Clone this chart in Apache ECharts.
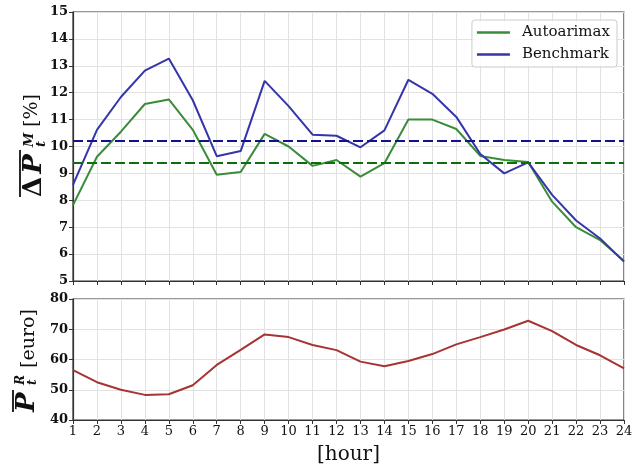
<!DOCTYPE html>
<html>
<head>
<meta charset="utf-8">
<script src="https://cdn.jsdelivr.net/npm/echarts@6/dist/echarts.min.js"></script>
<style>
  html, body { margin: 0; padding: 0; background: #fff; }
  #chart { width: 643px; height: 466px; }
</style>
</head>
<body>
<div id="chart"></div>
<script>
// Hour of day
const hours = [1, 2, 3, 4, 5, 6, 7, 8, 9, 10, 11, 12, 13, 14, 15, 16, 17, 18, 19, 20, 21, 22, 23, 24];

// Mean absolute percentage error per hour [%]
const autoarimax = [7.82, 9.62, 10.55, 11.58, 11.75, 10.62, 8.95, 9.05, 10.47, 10.0, 9.28, 9.5,
                    8.88, 9.38, 11.0, 11.0, 10.65, 9.65, 9.5, 9.42, 7.95, 7.0, 6.52, 5.74];
const benchmark  = [8.57, 10.62, 11.84, 12.82, 13.27, 11.72, 9.64, 9.83, 12.44, 11.5, 10.44, 10.4,
                    9.97, 10.6, 12.48, 11.96, 11.1, 9.72, 9.0, 9.41, 8.2, 7.25, 6.58, 5.72];

// Overall averages drawn as dashed reference lines
const autoarimaxMean = 9.4;
const benchmarkMean = 10.2;

// Mean realised price per hour [euro]
const price = [56.5, 52.5, 50.0, 48.3, 48.5, 51.5, 58.2, 63.2, 68.3, 67.4, 64.8, 63.1,
               59.3, 57.8, 59.5, 61.8, 65.0, 67.4, 69.9, 72.8, 69.4, 64.8, 61.4, 57.1];

const GREEN = '#3a8b3a';
const BLUE = '#3535ab';
const RED = '#a63434';
const DASH_GREEN = '#0c6e0c';
const DASH_BLUE = '#12128f';
const SERIF = 'DejaVu Serif';

const pairs = vals => hours.map((h, i) => [h, vals[i]]);

const yTickLabel = { fontFamily: SERIF, fontWeight: 'bold', fontSize: 13, color: '#111', margin: 5 };
const xTickLabel = { fontFamily: SERIF, fontWeight: 'normal', fontSize: 13, color: '#111', margin: 5 };
const gridLine = { show: true, lineStyle: { color: '#e2e2e2', width: 1 } };
const axisLine = { show: true, lineStyle: { color: '#333', width: 1.2 } };
const tick = { show: true, length: 4, lineStyle: { color: '#333', width: 1 } };

const chart = echarts.init(document.getElementById('chart'), null, { renderer: 'canvas' });

// Rotated math-style label pieces
const txt = (x, y, text, size, extra) => ({
  type: 'text', x, y,
  style: Object.assign({ text, fontFamily: SERIF, fontSize: size, verticalAlign: 'middle', align: 'left', fill: '#111' }, extra || {})
});
const bi = { fontWeight: 'bold', fontStyle: 'italic' };
const bar = (x, y, w) => ({ type: 'rect', shape: { x, y: y - 0.9, width: w, height: 1.8 }, style: { fill: '#111' } });

const option = {
  animation: false,
  backgroundColor: '#fff',
  grid: [
    { left: 73, right: 19, top: 12, height: 269, show: true, borderColor: '#333', borderWidth: 1.2, backgroundColor: 'transparent' },
    { left: 73, right: 19, top: 299, height: 125, show: true, borderColor: '#333', borderWidth: 1.2, backgroundColor: 'transparent' }
  ],
  xAxis: [
    { gridIndex: 0, type: 'value', min: 1, max: 24, interval: 1,
      axisLine, axisTick: tick, splitLine: gridLine, axisLabel: { show: false } },
    { gridIndex: 1, type: 'value', min: 1, max: 24, interval: 1,
      axisLine, axisTick: tick, splitLine: gridLine, axisLabel: xTickLabel,
      name: '[hour]', nameLocation: 'middle', nameGap: 25,
      nameTextStyle: { fontFamily: SERIF, fontSize: 20, color: '#111' } }
  ],
  yAxis: [
    { gridIndex: 0, type: 'value', min: 5, max: 15, interval: 1,
      axisLine, axisTick: tick, splitLine: gridLine, axisLabel: yTickLabel },
    { gridIndex: 1, type: 'value', min: 40, max: 80, interval: 10,
      axisLine, axisTick: tick, splitLine: gridLine, axisLabel: yTickLabel }
  ],
  legend: {
    orient: 'vertical',
    right: 26, top: 20,
    data: [{ name: 'Autoarimax', icon: 'rect' }, { name: 'Benchmark', icon: 'rect' }],
    itemWidth: 33, itemHeight: 2.5, itemGap: 7,
    padding: [5, 7, 5, 5],
    backgroundColor: 'rgba(255,255,255,0.85)',
    borderColor: '#cccccc', borderWidth: 1, borderRadius: 3,
    textStyle: { fontFamily: SERIF, fontSize: 15, color: '#111', padding: [0, 0, 0, 7] }
  },
  series: [
    { name: 'Autoarimax', type: 'line', xAxisIndex: 0, yAxisIndex: 0,
      data: pairs(autoarimax), symbol: 'none', lineStyle: { color: GREEN, width: 2 }, itemStyle: { color: GREEN },
      markLine: { silent: true, symbol: 'none', label: { show: false },
        lineStyle: { color: DASH_GREEN, type: [10, 4], width: 2 }, data: [{ yAxis: autoarimaxMean }] } },
    { name: 'Benchmark', type: 'line', xAxisIndex: 0, yAxisIndex: 0,
      data: pairs(benchmark), symbol: 'none', lineStyle: { color: BLUE, width: 2 }, itemStyle: { color: BLUE },
      markLine: { silent: true, symbol: 'none', label: { show: false },
        lineStyle: { color: DASH_BLUE, type: [10, 4], width: 2 }, data: [{ yAxis: benchmarkMean }] } },
    { name: 'Price', type: 'line', xAxisIndex: 1, yAxisIndex: 1,
      data: pairs(price), symbol: 'none', lineStyle: { color: RED, width: 2 }, itemStyle: { color: RED } }
  ],
  graphic: [
    // Upper axis title: overline(ΔP)_t^M [%]
    { type: 'group', x: 34, y: 197, rotation: Math.PI / 2, children: [
      txt(0, 0, '{d|Δ}{p|P}', 26, { rich: {
        d: { fontFamily: SERIF, fontWeight: 'bold', fontSize: 26, padding: [0, 3, 0, 0] },
        p: { fontFamily: SERIF, fontWeight: 'bold', fontStyle: 'italic', fontSize: 26 } } }),
      bar(0, -14, 47),
      txt(50, -4, 'M', 13, bi),
      txt(50, 8, 't', 13, bi),
      txt(70, -2, '[%]', 19)
    ] },
    // Lower axis title: overline(P)_t^R [euro]
    { type: 'group', x: 27, y: 412, rotation: Math.PI / 2, children: [
      txt(0, 0, 'P', 26, bi),
      bar(0, -14, 22),
      txt(27, -6, 'R', 12, bi),
      txt(27, 6, 't', 12, bi),
      txt(44, 2, '[euro]', 19)
    ] }
  ]
};

chart.setOption(option);
</script>
</body>
</html>
